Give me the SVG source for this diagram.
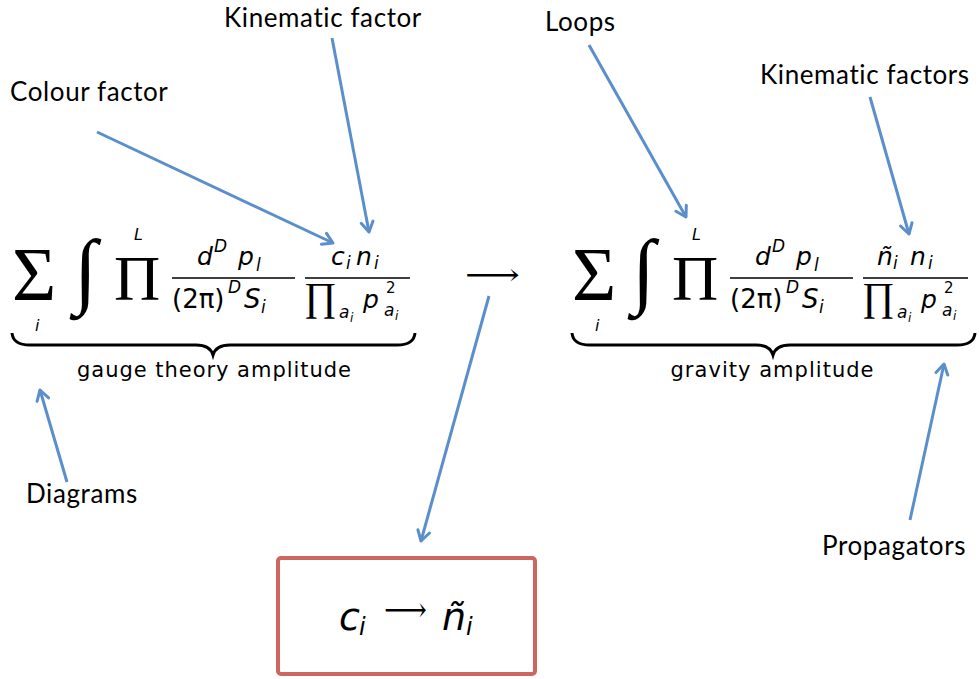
<svg xmlns="http://www.w3.org/2000/svg" width="979" height="679" viewBox="0 0 979 679">
<style>
.lbl{font-family:Lato,"Open Sans",sans-serif;font-size:26px;letter-spacing:0.6px;fill:#000}
.m{font-family:"DejaVu Sans",sans-serif;font-style:italic;fill:#000}
.mu{font-family:"DejaVu Sans",sans-serif;fill:#000}
.big{font-family:"Liberation Serif","DejaVu Serif",serif;fill:#000}
.s25{font-size:25px}.s17{font-size:17px}.s12{font-size:12px}
.cap{font-family:"DejaVu Sans",sans-serif;font-size:21px;fill:#000}
.arr{stroke:#5B8FCC;stroke-width:3;fill:none;marker-end:url(#ah)}
.brace{stroke:#000;stroke-width:3;fill:none}
.fl{stroke:#000;stroke-width:1.5}
</style>
<defs>
<marker id="ah" markerUnits="userSpaceOnUse" markerWidth="16" markerHeight="16" viewBox="0 0 16 16" refX="13" refY="8" orient="auto">
<path d="M3,2 L13,8 L3,14" stroke="#5B8FCC" stroke-width="3" fill="none" stroke-linecap="round" stroke-linejoin="round"/>
</marker>
</defs>
<rect width="979" height="679" fill="#fff"/>

<g id="gauge-formula">
<text class="big" x="12" y="300" font-size="76">Σ</text>
<text class="m" x="35" y="331" font-size="16">i</text>
<text class="big" x="74" y="298" font-size="84">∫</text>
<text class="big" x="114" y="300" font-size="64">Π</text>
<text class="m" x="134" y="240" font-size="16">L</text>
<line class="fl" x1="172" y1="278" x2="295" y2="278"/>
<text class="m s25" x="197" y="265">d</text>
<text class="m s17" x="214" y="252">D</text>
<text class="m s25" x="238" y="265">p</text>
<text class="m s17" x="256" y="271">l</text>
<text class="mu" x="172" y="308" font-size="26">(2π)</text>
<text class="m s17" x="228" y="293">D</text>
<text class="m" x="244" y="308" font-size="26">S</text>
<text class="m s17" x="261" y="313">i</text>
<line class="fl" x1="305" y1="278" x2="410" y2="278"/>
<text class="m s25" x="331" y="265">c</text>
<text class="m s17" x="346" y="269">i</text>
<text class="m s25" x="356" y="265">n</text>
<text class="m s17" x="374" y="269">i</text>
<text class="big" x="304" y="310" font-size="40">∏</text>
<text class="m s17" x="339" y="318">a</text>
<text class="m s12" x="350" y="322">i</text>
<text class="m s25" x="363" y="308">p</text>
<text class="mu" x="386" y="293" font-size="15">2</text>
<text class="m s17" x="384" y="316">a</text>
<text class="m s12" x="395" y="320">i</text>
<path class="brace" d="M12,333 Q13,345 30,345 L196,345 Q210,345 213,355 Q216,345 230,345 L397,345 Q414,345 415,333"/>
<text class="cap" x="214" y="377" text-anchor="middle" textLength="274" lengthAdjust="spacing">gauge theory amplitude</text>
</g>

<g id="gravity-formula">
<text class="big" x="572" y="300" font-size="76">Σ</text>
<text class="m" x="595" y="331" font-size="16">i</text>
<text class="big" x="632" y="298" font-size="84">∫</text>
<text class="big" x="672" y="300" font-size="64">Π</text>
<text class="m" x="692" y="240" font-size="16">L</text>
<line class="fl" x1="730" y1="278" x2="853" y2="278"/>
<text class="m s25" x="755" y="265">d</text>
<text class="m s17" x="772" y="252">D</text>
<text class="m s25" x="796" y="265">p</text>
<text class="m s17" x="814" y="271">l</text>
<text class="mu" x="730" y="308" font-size="26">(2π)</text>
<text class="m s17" x="786" y="293">D</text>
<text class="m" x="802" y="308" font-size="26">S</text>
<text class="m s17" x="819" y="313">i</text>
<line class="fl" x1="863" y1="278" x2="968" y2="278"/>
<text class="m s25" x="877" y="265">ñ</text>
<text class="m s17" x="893" y="269">i</text>
<text class="m s25" x="910" y="265">n</text>
<text class="m s17" x="928" y="269">i</text>
<text class="big" x="862" y="310" font-size="40">∏</text>
<text class="m s17" x="897" y="318">a</text>
<text class="m s12" x="908" y="322">i</text>
<text class="m s25" x="921" y="308">p</text>
<text class="mu" x="944" y="293" font-size="15">2</text>
<text class="m s17" x="942" y="316">a</text>
<text class="m s12" x="953" y="320">i</text>
<path class="brace" d="M572,333 Q573,345 590,345 L756,345 Q770,345 773,355 Q776,345 790,345 L957,345 Q974,345 975,333"/>
<text class="cap" x="772" y="377" text-anchor="middle" textLength="203" lengthAdjust="spacing">gravity amplitude</text>
</g>

<g id="maps-to">
<text class="big" x="465" y="285" font-size="30" textLength="55" lengthAdjust="spacingAndGlyphs">⟶</text>
</g>

<g id="replacement-box">
<rect x="278" y="558" width="257" height="116" rx="3" fill="#fff" stroke="#CD6660" stroke-width="4"/>
<text class="m" x="339" y="630" font-size="38">c</text>
<text class="m" x="359" y="635" font-size="24">i</text>
<text class="big" x="384" y="621" font-size="34" textLength="43" lengthAdjust="spacingAndGlyphs">⟶</text>
<text class="m" x="442" y="630" font-size="38">ñ</text>
<text class="m" x="466" y="635" font-size="24">i</text>
</g>

<g id="label-colour-factor"><text class="lbl" x="10" y="101">Colour factor</text></g>
<g id="label-kinematic-factor"><text class="lbl" x="224" y="27">Kinematic factor</text></g>
<g id="label-loops"><text class="lbl" x="545" y="31">Loops</text></g>
<g id="label-kinematic-factors"><text class="lbl" x="760" y="84">Kinematic factors</text></g>
<g id="label-diagrams"><text class="lbl" x="26" y="503">Diagrams</text></g>
<g id="label-propagators"><text class="lbl" x="822" y="555">Propagators</text></g>

<g id="connectors">
<line class="arr" x1="97" y1="132" x2="333" y2="243"/>
<line class="arr" x1="332" y1="38" x2="369" y2="232"/>
<line class="arr" x1="589" y1="45" x2="686" y2="217"/>
<line class="arr" x1="870" y1="97" x2="909" y2="234"/>
<line class="arr" x1="67" y1="482" x2="40" y2="390"/>
<line class="arr" x1="910" y1="520" x2="944" y2="364"/>
<line class="arr" x1="489" y1="296" x2="421" y2="541"/>
</g>
</svg>
